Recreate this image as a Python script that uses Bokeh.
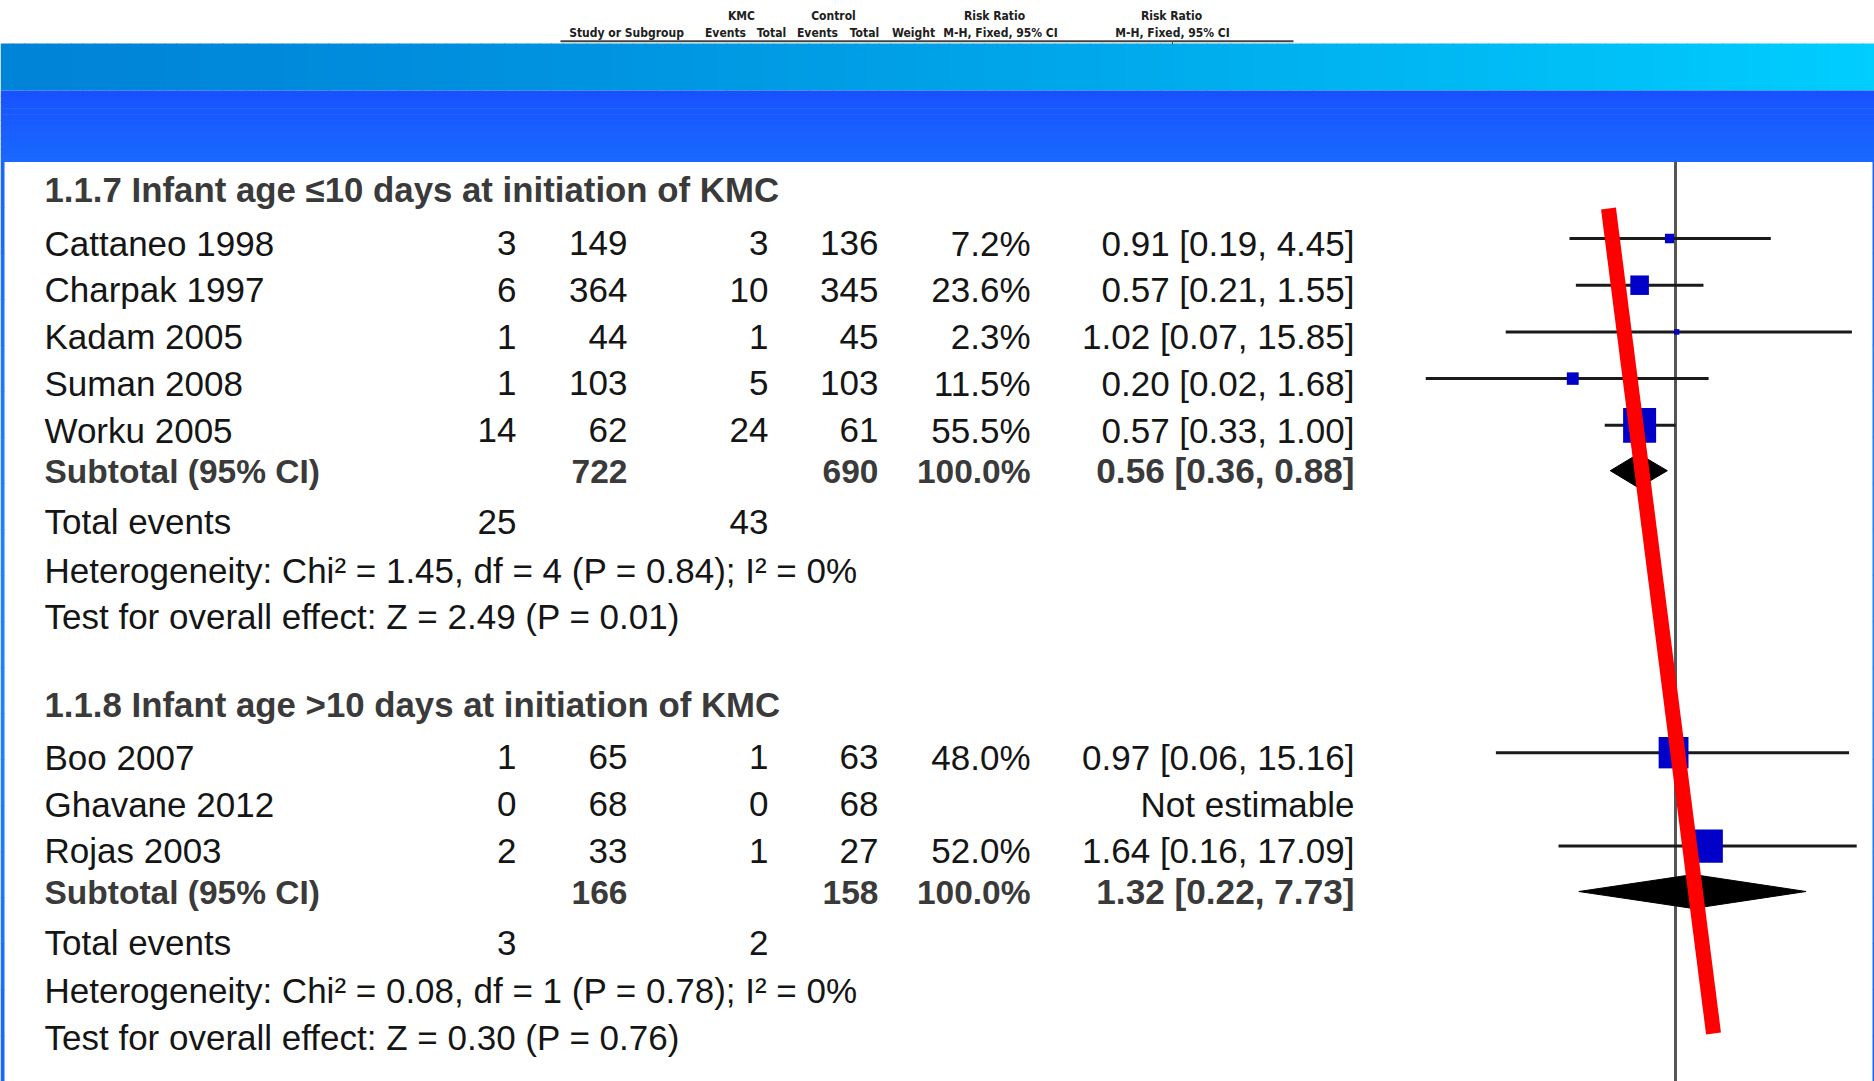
import numpy as np
from bokeh.plotting import figure
from bokeh.models import Range1d, LogScale
from bokeh.embed import file_html
from bokeh.resources import INLINE
from bokeh.core.properties import value

# ---------------- data ----------------
header_top = ["KMC", "Control", "Risk Ratio", "Risk Ratio"]
header_bottom = ["Study or Subgroup", "Events", "Total", "Events", "Total", "Weight",
                 "M-H, Fixed, 95% CI", "M-H, Fixed, 95% CI"]

g1_title = "1.1.7 Infant age \u226410 days at initiation of KMC"
g1_studies = ["Cattaneo 1998", "Charpak 1997", "Kadam 2005", "Suman 2008", "Worku 2005"]
g1_kmc_events = [3, 6, 1, 1, 14]
g1_kmc_total = [149, 364, 44, 103, 62]
g1_ctl_events = [3, 10, 1, 5, 24]
g1_ctl_total = [136, 345, 45, 103, 61]
g1_weight = [7.2, 23.6, 2.3, 11.5, 55.5]
g1_rr = [0.91, 0.57, 1.02, 0.20, 0.57]
g1_lo = [0.19, 0.21, 0.07, 0.02, 0.33]
g1_hi = [4.45, 1.55, 15.85, 1.68, 1.00]
g1_sub_totals = [722, 690]
g1_sub_rr = [0.56, 0.36, 0.88]
g1_total_events = [25, 43]
g1_het = "Heterogeneity: Chi\u00b2 = 1.45, df = 4 (P = 0.84); I\u00b2 = 0%"
g1_test = "Test for overall effect: Z = 2.49 (P = 0.01)"

g2_title = "1.1.8 Infant age >10 days at initiation of KMC"
g2_studies = ["Boo 2007", "Ghavane 2012", "Rojas 2003"]
g2_kmc_events = [1, 0, 2]
g2_kmc_total = [65, 68, 33]
g2_ctl_events = [1, 0, 1]
g2_ctl_total = [63, 68, 27]
g2_weight = [48.0, None, 52.0]
g2_rr = [0.97, None, 1.64]
g2_lo = [0.06, None, 0.16]
g2_hi = [15.16, None, 17.09]
g2_sub_totals = [166, 158]
g2_sub_rr = [1.32, 0.22, 7.73]
g2_total_events = [3, 2]
g2_het = "Heterogeneity: Chi\u00b2 = 0.08, df = 1 (P = 0.78); I\u00b2 = 0%"
g2_test = "Test for overall effect: Z = 0.30 (P = 0.76)"

# annotation (hand-drawn red stroke), in risk-ratio units at its two ends
red_stroke_rr = [0.350, 1.814]

# ---------------- layout constants ----------------
W, H = 1874, 1081
FONT = value("Liberation Sans")
HFONT = value("Liberation Sans Narrow, DejaVu Sans Condensed, Liberation Sans")
NORMAL = "#151515"
BOLD = "#3a3a3a"
PX_PER_DEC = 147.0
X_ONE = 1675.0
DY = -0.4  # baseline correction, in em

p = figure(width=W, height=H, x_range=Range1d(0, W), y_range=Range1d(H, 0),
           output_backend="svg", toolbar_location=None, min_border=0)
p.axis.visible = False
p.grid.visible = False
p.outline_line_color = None
p.background_fill_color = "white"
p.border_fill_color = "white"
p.extra_x_ranges = {"rr": Range1d(10 ** (-X_ONE / PX_PER_DEC), 10 ** ((W - X_ONE) / PX_PER_DEC))}
p.extra_x_scales = {"rr": LogScale()}

# ---------------- background bands ----------------
n = 160
edges = np.linspace(0, W, n + 1)
c0 = np.array([0, 132, 216]); c1 = np.array([0, 206, 255])
cols = []
for i in range(n):
    t = (i / (n - 1)) ** 1.3
    c = (c0 + (c1 - c0) * t).astype(int)
    cols.append("#%02x%02x%02x" % tuple(c))
p.quad(left=edges[:-1], right=edges[1:] + 1, top=43, bottom=90, fill_color=cols, line_color=None)

m = 12
yed = np.linspace(90, 161, m + 1)
b0 = np.array([24, 82, 255]); b1 = np.array([26, 104, 255])
bcols = ["#%02x%02x%02x" % tuple((b0 + (b1 - b0) * (i / (m - 1))).astype(int)) for i in range(m)]
p.quad(left=0, right=W, top=yed[:-1], bottom=yed[1:] + 0.6, fill_color=bcols, line_color=None)

k = 20
yb = np.linspace(161, H, k + 1)
s0 = np.array([26, 102, 255]); s1 = np.array([30, 130, 255])
scols = ["#%02x%02x%02x" % tuple((s0 + (s1 - s0) * abs(np.sin(np.pi * i / (k - 1)))).astype(int)) for i in range(k)]
p.quad(left=0, right=4, top=yb[:-1], bottom=yb[1:] + 0.6, fill_color=scols, line_color=None)
p.quad(left=W - 2, right=W, top=yb[:-1], bottom=yb[1:] + 0.6, fill_color=scols, line_color=None)

# ---------------- header strip ----------------
HS = 12
p.text(x=[741, 833, 994, 1171], y=[20 + DY * HS] * 4, text=header_top, text_font=HFONT,
       text_font_size="%dpx" % HS, text_font_style="bold", text_align="center",
       text_baseline="alphabetic", text_color="#202020")
p.text(x=[626, 725, 771, 817, 864, 913, 1000, 1172], y=[37 + DY * HS] * 8,
       text=header_bottom, text_font=HFONT, text_font_size="%dpx" % HS, text_font_style="bold",
       text_align="center", text_baseline="alphabetic", text_color="#202020")
p.segment(x0=560, x1=1293, y0=40.7, y1=40.7, line_color="#444444", line_width=2)
p.segment(x0=1172, x1=1172, y0=41, y1=44, line_color="#555555", line_width=1)

# RR = 1 reference line
p.segment(x0=[1], x1=[1], y0=[161], y1=[H], x_range_name="rr", line_color="#555555", line_width=3)

# ---------------- groups ----------------
ROW = 46.7
COLX = dict(ke=516, kt=627, ce=768, ct=878, w=1030, rr=1354)


def txt(xs, ys, texts, align="right", bold=False, size=35):
    p.text(x=xs, y=[y + DY * size for y in ys], text=texts, text_font=FONT,
           text_font_size="%.1fpx" % size,
           text_font_style="bold" if bold else "normal", text_align=align,
           text_baseline="alphabetic", text_color=BOLD if bold else NORMAL)


def draw_group(base, title, studies, ke, kt, ce, ct, w, rr, lo, hi, subt, subrr, tev, het, test):
    nrow = len(studies)
    txt([44], [base], [title], align="left", bold=True, size=34.8)
    ys = [base + 53.4 + ROW * i for i in range(nrow)]
    txt([44] * nrow, ys, studies, align="left")
    txt([COLX["ke"]] * nrow, ys, [str(v) for v in ke])
    txt([COLX["kt"]] * nrow, ys, [str(v) for v in kt])
    txt([COLX["ce"]] * nrow, ys, [str(v) for v in ce])
    txt([COLX["ct"]] * nrow, ys, [str(v) for v in ct])
    txt([COLX["w"]] * nrow, ys, ["" if v is None else "%.1f%%" % v for v in w])
    rrs = ["Not estimable" if r is None else "%.2f [%.2f, %.2f]" % (r, a, b)
           for r, a, b in zip(rr, lo, hi)]
    txt([COLX["rr"]] * nrow, ys, rrs)

    sy = ys[-1] + 40.7
    txt([44], [sy], ["Subtotal (95% CI)"], align="left", bold=True, size=33.5)
    txt([COLX["kt"], COLX["ct"], COLX["w"]], [sy] * 3,
        [str(subt[0]), str(subt[1]), "100.0%"], bold=True, size=33.5)
    txt([COLX["rr"]], [sy], ["%.2f [%.2f, %.2f]" % tuple(subrr)], bold=True, size=35.2)
    ty = sy + 51
    txt([44], [ty], ["Total events"], align="left")
    txt([COLX["ke"], COLX["ce"]], [ty, ty], [str(tev[0]), str(tev[1])])
    hy = ty + 48.3
    txt([44], [hy], [het], align="left")
    txt([44], [hy + 46.7], [test], align="left")

    # forest marks
    idx = [i for i in range(nrow) if rr[i] is not None]
    fy = [ys[i] - 18.7 for i in idx]
    p.segment(x0=[lo[i] for i in idx], x1=[hi[i] for i in idx], y0=fy, y1=fy,
              x_range_name="rr", line_color="#1a1a1a", line_width=3)
    sides = [2.5 + 1.5 * w[i] ** 0.75 for i in idx]
    p.rect(x=[rr[i] for i in idx], y=fy, width=sides, height=[s * 1.05 for s in sides],
           width_units="screen", height_units="screen", x_range_name="rr",
           fill_color="#0000c8", line_color=None)
    dy = sy - 14
    p.patch(x=[subrr[1], subrr[0], subrr[2], subrr[0]], y=[dy, dy - 17, dy, dy + 17],
            x_range_name="rr", fill_color="black", line_color="black", line_width=1)
    return hy + 46.7


end1 = draw_group(203.3, g1_title, g1_studies, g1_kmc_events, g1_kmc_total, g1_ctl_events,
                  g1_ctl_total, g1_weight, g1_rr, g1_lo, g1_hi, g1_sub_totals, g1_sub_rr,
                  g1_total_events, g1_het, g1_test)
draw_group(end1 + 87.3, g2_title, g2_studies, g2_kmc_events, g2_kmc_total, g2_ctl_events,
           g2_ctl_total, g2_weight, g2_rr, g2_lo, g2_hi, g2_sub_totals, g2_sub_rr,
           g2_total_events, g2_het, g2_test)

# red hand-drawn stroke
p.segment(x0=[red_stroke_rr[0]], x1=[red_stroke_rr[1]], y0=[208], y1=[1033], x_range_name="rr",
          line_color="#ff0000", line_width=15, line_cap="butt")

open("out.html", "w").write(file_html(p, INLINE))
